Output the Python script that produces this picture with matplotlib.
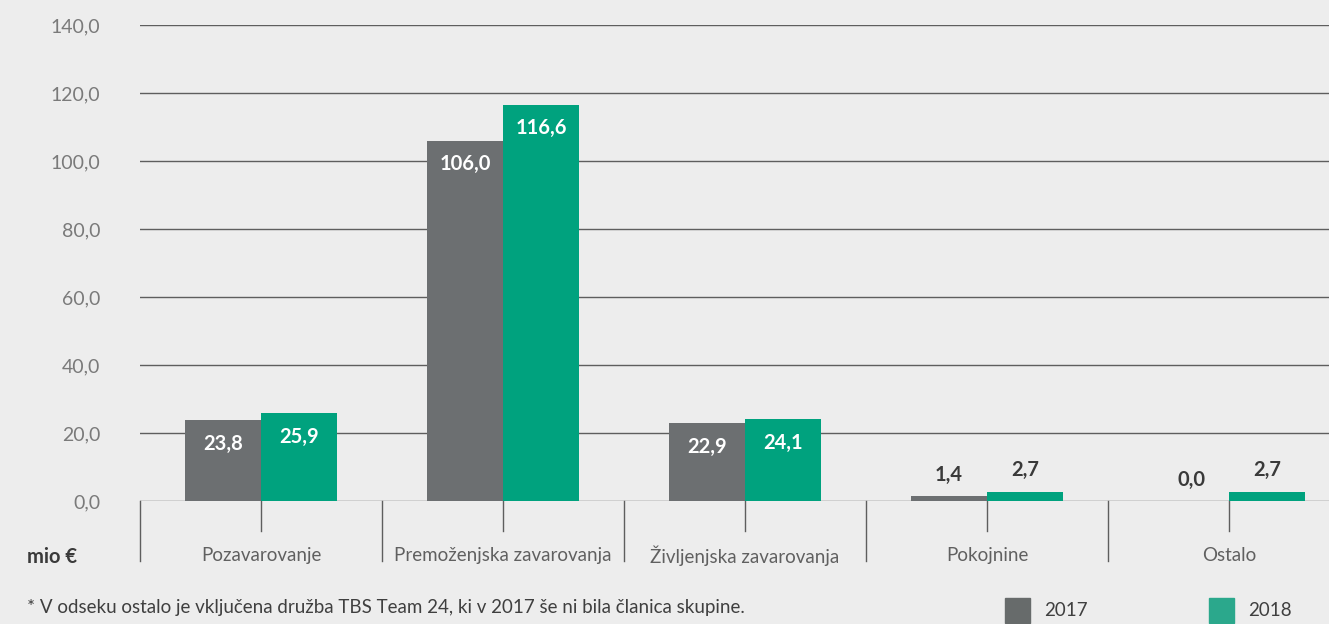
import matplotlib
matplotlib.use("Agg")
import matplotlib.pyplot as plt

categories = ["Pozavarovanje", "Premoženjska zavarovanja", "Življenjska zavarovanja", "Pokojnine", "Ostalo"]
values_2017 = [23.8, 106.0, 22.9, 1.4, 0.0]
values_2018 = [25.9, 116.6, 24.1, 2.7, 2.7]
series_names = ["2017", "2018"]
y_ticks = [0, 20, 40, 60, 80, 100, 120, 140]

BG = "#ededed"
GRAY = "#6c6f71"
GREEN = "#00a27e"
FONT = "Lato"

plt.rcParams["font.family"] = [FONT, "DejaVu Sans"]

W, H = 1329, 624
fig = plt.figure(figsize=(W / 100, H / 100), dpi=100, facecolor=BG)
ax = fig.add_axes([140 / W, 123 / H, 1 - 140 / W, (501 - 25) / H])
ax.set_facecolor(BG)

bw = 0.314
x = list(range(len(categories)))
ax.bar([i - bw / 2 for i in x], values_2017, width=bw, color=GRAY, zorder=3)
ax.bar([i + bw / 2 for i in x], values_2018, width=bw, color=GREEN, zorder=3)

ax.set_ylim(0, 140)
ax.set_xlim(-0.5, (W - 140) / 242 - 0.5)
for s in ax.spines.values():
    s.set_visible(False)
ax.set_xticks([])
ax.set_yticks(y_ticks)
ax.set_yticklabels([f"{v:.1f}".replace(".", ",") for v in y_ticks], color="#7a7a7a",
                   fontsize=14)
ax.tick_params(axis="y", length=0, pad=28.5)
for v in y_ticks:
    ax.axhline(v, color="#5e5e5e", lw=1.0, zorder=2)

# separators and center ticks
for i in range(len(categories) + 1):
    b = i - 0.5
    ax.plot([b, b], [0, -17.6], color="#5e5e5e", lw=1.0, clip_on=False, zorder=2)
for i in x:
    ax.plot([i, i], [0, -8.8], color="#5e5e5e", lw=1.0, clip_on=False, zorder=2)
    ax.text(i, -16.0, categories[i], ha="center", va="center", fontsize=13.5,
            color="#606060", clip_on=False)

def label(xpos, v):
    txt = f"{v:.1f}".replace(".", ",")
    if v > 10:
        ax.annotate(txt, (xpos, v), xytext=(0, -17), textcoords="offset points",
                    ha="center", va="center", color="white", fontsize=14.5, fontweight="bold", zorder=4)
    else:
        ax.annotate(txt, (xpos, v), xytext=(0, 15.5), textcoords="offset points",
                    ha="center", va="center", color="#3a3a3a", fontsize=14.5, fontweight="bold", zorder=4)

for i in x:
    label(i - bw / 2, values_2017[i])
    label(i + bw / 2, values_2018[i])

fig.text(27 / W, 1 - 557 / H, "mio €", ha="left", va="center", fontsize=14.5, fontweight="bold", color="#3a3a3a")
fig.text(27 / W, 1 - 607 / H, "* V odseku ostalo je vključena družba TBS Team 24, ki v 2017 še ni bila članica skupine.",
         ha="left", va="center", fontsize=13.5, color="#3f3f3f")

# legend
leg_cols = ["#676b6b", "#2ba88c"]
leg_x = [1005, 1209]
for lx, c, name in zip(leg_x, leg_cols, series_names):
    fig.patches.append(plt.Rectangle((lx / W, 1 - 623 / H), 25 / W, 25 / H, transform=fig.transFigure,
                                     color=c, figure=fig))
    fig.text((lx + 39) / W, 1 - 611 / H, name, ha="left", va="center", fontsize=13.5,
             color="#3f3f3f")

fig.savefig("out.png", dpi=100, facecolor=BG)
